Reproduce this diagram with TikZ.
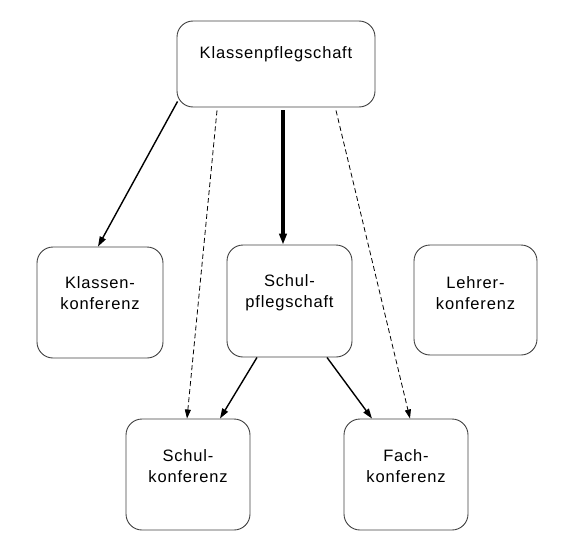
\documentclass[tikz,border=0pt]{standalone}
\usepackage{fontspec}
\setmainfont{Liberation Sans}[LetterSpace=5]
\usetikzlibrary{arrows.meta}
\begin{document}
\begin{tikzpicture}[x=1pt,y=-1pt,
  box/.style={draw=black!75, line width=0.9pt, rounded corners=16pt, inner sep=0pt},
  lbl/.style={font=\fontsize{16.5}{21}\selectfont, align=center, anchor=base, inner sep=0pt},
  arr/.style={line width=1.4pt, -{Triangle[length=10pt,width=6.5pt]}},
  thk/.style={line width=3.4pt, -{Triangle[length=11pt,width=7.5pt]}},
  dsh/.style={line width=0.8pt, dash pattern=on 5pt off 3pt, -{Triangle[length=9pt,width=6pt]}}]
\useasboundingbox (0,0) rectangle (573,551);
% boxes
\node[box, minimum width=198pt, minimum height=86pt] (kp) at (276,64) {};
\node[box, minimum width=126pt, minimum height=111pt] (kk) at (100,302.5) {};
\node[box, minimum width=125pt, minimum height=112pt] (sp) at (289.5,301) {};
\node[box, minimum width=123pt, minimum height=110pt] (lk) at (475.5,300) {};
\node[box, minimum width=124pt, minimum height=111pt] (sk) at (188,474.5) {};
\node[box, minimum width=124pt, minimum height=111pt] (fk) at (406,474.5) {};
% labels (base = baseline of last line)
\node[lbl] (tkp) at (276,59) {Klassenpflegschaft};
\node[lbl] (tkk) at (100,309) {Klassen-\\konferenz};
\node[lbl] (tsp) at (289.5,307) {Schul-\\pflegschaft};
\node[lbl] (tlk) at (475.5,309) {Lehrer-\\konferenz};
\node[lbl] (tsk) at (188,482) {Schul-\\konferenz};
\node[lbl] (tfk) at (406,482) {Fach-\\konferenz};
% connectors
\draw[arr] ([xshift=1pt,yshift=6pt]kp.south west) -- ([xshift=-2pt]kk.north);
\draw[dsh] ([xshift=-59pt,yshift=-3pt]kp.south) -- ([xshift=-1pt]sk.north);
\draw[thk] ([xshift=7pt,yshift=-3pt]kp.south) -- ([xshift=-6.5pt]sp.north);
\draw[dsh] ([xshift=60pt,yshift=-3pt]kp.south) -- ([xshift=4pt]fk.north);
\draw[arr] ([xshift=-32.5pt]sp.south) -- ([xshift=32pt]sk.north);
\draw[arr] ([xshift=37.5pt]sp.south) -- ([xshift=-34pt]fk.north);
\end{tikzpicture}
\end{document}
